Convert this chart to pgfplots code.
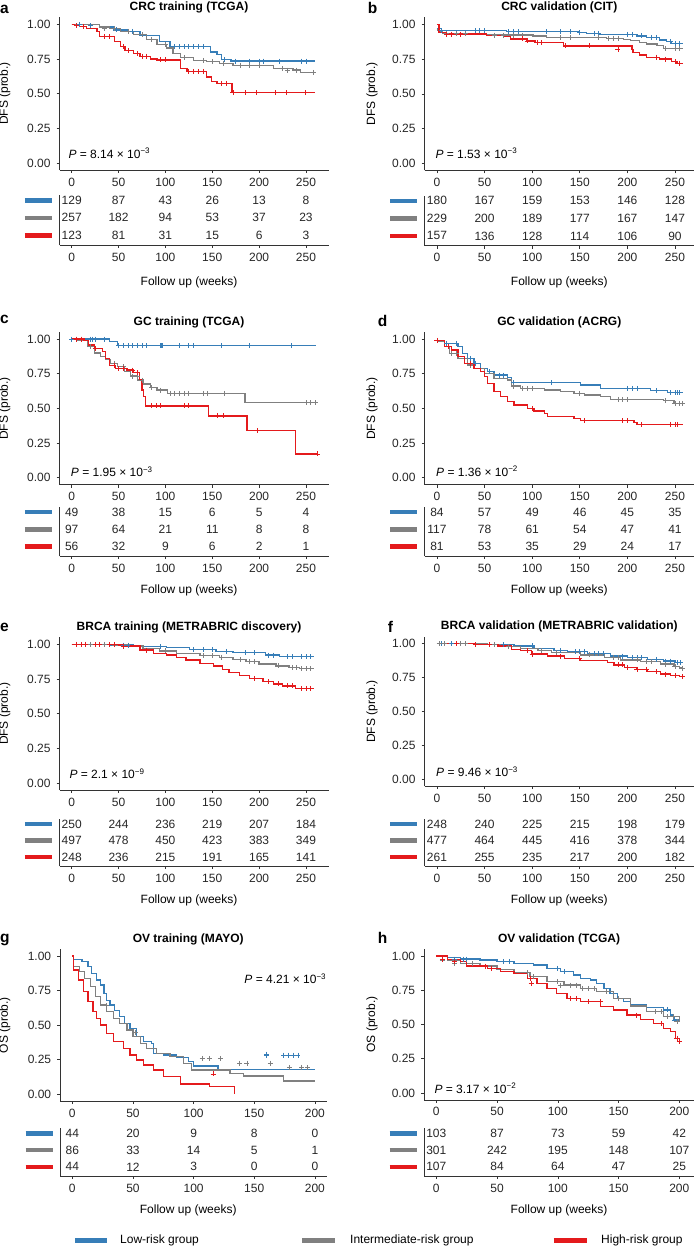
\documentclass[border=0pt]{standalone}
\usepackage{fontspec}
\setmainfont{Liberation Sans}
\usepackage{pgfplots}
\pgfplotsset{compat=1.18}
\definecolor{kmblue}{RGB}{55,126,184}
\definecolor{kmgray}{RGB}{128,128,128}
\definecolor{kmred}{RGB}{228,26,28}
\newcommand{\fs}{\fontsize{12}{14}\selectfont}
\newcommand{\rb}{\textcolor{kmblue}{\rule{27pt}{4.5pt}}}
\newcommand{\rg}{\textcolor{kmgray}{\rule{27pt}{4.5pt}}}
\newcommand{\rr}{\textcolor{kmred}{\rule{27pt}{4.5pt}}}
\pgfplotsset{
  /pgf/number format/assume math mode=true,
  every axis/.append style={font=\fs},
  every tick label/.append style={font=\fs, text=black!85},
  common/.style={scale only axis, anchor=south west, axis x line*=bottom, axis y line*=left,
    tick align=outside, major tick length=3pt, clip=false,
    axis line style={black!80, line width=0.6pt}, tick style={black!80, line width=0.6pt},
    xticklabel style={yshift=-1.2pt}},
  km/.style={common, ymin=-0.05, ymax=1.05, ytick={0,0.25,0.5,0.75,1},
    yticklabel style={/pgf/number format/fixed, /pgf/number format/fixed zerofill,
      /pgf/number format/precision=2, xshift=-2.5pt},
    title style={anchor=base, yshift=1pt, font=\fs\bfseries},
    ylabel style={anchor=base}},
  tbl/.style={common, ymin=0.45, ymax=3.3, ytick={1,2,3}, yticklabels={\rr,\rg,\rb},
    ytick style={draw=none}, yticklabel style={xshift=-1pt},
    xlabel={Follow up (weeks)}},
  kmline/.style={const plot, line width=1.3pt, mark=none},
  cens/.style={only marks, mark=+, mark size=2.5pt, mark options={line width=0.7pt}},
  nums/.style={only marks, mark=none, point meta=explicit symbolic, nodes near coords,
    nodes near coords align=center,
    every node near coord/.append style={anchor=center, inner sep=0pt, font=\fs, text=black!85}},
}
\newcommand{\pval}[3]{\node[anchor=base west, inner sep=0pt, font=\fs] at (axis cs:#1,#2) {\textit{P} = #3};}
\begin{document}
\begin{tikzpicture}
\useasboundingbox (0,0) rectangle (694pt,-1247pt);
% panel letters
\begin{scope}[every node/.style={anchor=base west, inner sep=0pt, font=\fontsize{15.5}{15.5}\bfseries\selectfont}]
\node at (0pt,-13.3pt) {a};
\node at (367.7pt,-13.3pt) {b};
\node at (0pt,-323.3pt) {c};
\node at (377.7pt,-326.7pt) {d};
\node at (0pt,-631.7pt) {e};
\node at (387.7pt,-632.7pt) {f};
\node at (0pt,-942.3pt) {g};
\node at (377.7pt,-943.3pt) {h};
\end{scope}

%% ---------------- a ----------------
\begin{axis}[km, at={(59.5pt,-169.9pt)}, width=269.9pt, height=152.5pt, xmin=-13, xmax=275,
  xtick={0,50,...,250}, title={CRC training (TCGA)}, title style={at={(0.48,1)}},
  ylabel={DFS (prob.)}, ylabel style={at={(axis description cs:-0.191,0.5)}}]
\addplot[kmline, kmblue] coordinates {(0,1)(30,0.98)(45,0.96)(60,0.95)(73,0.92)(94,0.875)(105,0.84)(148,0.80)(155,0.78)(160,0.745)(170,0.735)(260,0.735)};
\addplot[kmline, kmgray] coordinates {(0,1)(30,0.98)(40,0.97)(52,0.95)(66,0.925)(80,0.89)(91,0.855)(101,0.83)(108,0.79)(116,0.76)(130,0.74)(144,0.73)(158,0.72)(172,0.705)(215,0.68)(236,0.67)(244,0.654)(260,0.654)};
\addplot[kmline, kmred] coordinates {(0,1)(3,0.99)(8,0.985)(16,0.97)(27,0.95)(30,0.91)(46,0.875)(52,0.84)(57,0.81)(66,0.79)(73,0.77)(84,0.75)(91,0.743)(116,0.683)(123,0.66)(144,0.62)(149,0.587)(155,0.575)(171,0.507)(260,0.507)};
\addplot[cens, kmblue] coordinates {(8,1)(20,0.99)(48,0.96)(65,0.95)(110,0.84)(115,0.84)(120,0.84)(125,0.84)(130,0.84)(135,0.84)(140,0.84)(163,0.745)(175,0.735)(190,0.735)(200,0.735)(205,0.735)(222,0.735)(245,0.735)(250,0.735)};
\addplot[cens, kmgray] coordinates {(35,0.97)(45,0.97)(60,0.95)(75,0.925)(85,0.89)(100,0.855)(120,0.76)(140,0.74)(150,0.73)(162,0.72)(180,0.705)(190,0.705)(200,0.705)(225,0.68)(230,0.67)(240,0.67)(258,0.654)};
\addplot[cens, kmred] coordinates {(5,0.99)(12,0.985)(35,0.91)(40,0.91)(55,0.84)(60,0.81)(70,0.79)(75,0.77)(80,0.77)(95,0.743)(100,0.743)(125,0.66)(130,0.66)(135,0.66)(140,0.66)(160,0.575)(165,0.575)(172,0.507)(185,0.507)(197,0.507)(217,0.507)(229,0.507)(249,0.507)};
\pval{-3.6}{0.034}{8.14 × 10\textsuperscript{−3}}
\end{axis}
\begin{axis}[tbl, at={(59.5pt,-245pt)}, width=269.9pt, height=49.9pt, xmin=-13, xmax=275,
  xtick={0,50,...,250}, xlabel style={at={(axis description cs:0.48,0)}, anchor=base, yshift=-40pt}]
\addplot[nums] coordinates {(0,3)[129](50,3)[87](100,3)[43](150,3)[26](200,3)[13](250,3)[8]};
\addplot[nums] coordinates {(0,2)[257](50,2)[182](100,2)[94](150,2)[53](200,2)[37](250,2)[23]};
\addplot[nums] coordinates {(0,1)[123](50,1)[81](100,1)[31](150,1)[15](200,1)[6](250,1)[3]};
\end{axis}

%% ---------------- b ----------------
\begin{axis}[km, at={(424.6pt,-170.25pt)}, width=269.4pt, height=152.9pt, xmin=-13, xmax=270,
  xtick={0,50,...,250}, title={CRC validation (CIT)}, title style={at={(0.5,1)}},
  ylabel={DFS (prob.)}, ylabel style={at={(axis description cs:-0.184,0.5)}}]
\addplot[kmline, kmblue] coordinates {(0,0.97)(5,0.955)(73,0.948)(150,0.94)(157,0.935)(171,0.928)(210,0.916)(220,0.906)(234,0.887)(241,0.875)(246,0.863)(258,0.863)};
\addplot[kmline, kmgray] coordinates {(0,0.96)(2,0.947)(6,0.935)(52,0.923)(101,0.916)(115,0.904)(178,0.90)(196,0.892)(203,0.882)(213,0.87)(220,0.858)(231,0.846)(238,0.827)(258,0.827)};
\addplot[kmline, kmred] coordinates {(0,1)(2,0.94)(10,0.93)(52,0.92)(70,0.91)(77,0.895)(94,0.88)(103,0.868)(133,0.844)(205,0.82)(206,0.796)(213,0.78)(220,0.763)(234,0.75)(246,0.731)(252,0.72)(258,0.72)};
\addplot[cens, kmblue] coordinates {(5,0.955)(40,0.955)(45,0.955)(50,0.955)(75,0.948)(80,0.948)(85,0.948)(115,0.948)(130,0.948)(140,0.948)(150,0.94)(165,0.935)(170,0.935)(200,0.928)(205,0.928)(215,0.916)(225,0.906)(230,0.906)(245,0.875)(250,0.863)(255,0.863)};
\addplot[cens, kmgray] coordinates {(10,0.935)(20,0.935)(30,0.935)(60,0.923)(70,0.923)(80,0.923)(90,0.923)(130,0.904)(140,0.904)(170,0.904)(180,0.90)(185,0.90)(190,0.90)(240,0.827)(250,0.827)(255,0.827)};
\addplot[cens, kmred] coordinates {(10,0.93)(15,0.93)(25,0.93)(90,0.895)(95,0.88)(105,0.868)(110,0.868)(135,0.844)(160,0.844)(190,0.82)(230,0.763)(240,0.75)(250,0.731)(255,0.72)};
\pval{-1.7}{0.036}{1.53 × 10\textsuperscript{−3}}
\end{axis}
\begin{axis}[tbl, at={(424.6pt,-245.5pt)}, width=269.4pt, height=49.9pt, xmin=-13, xmax=270,
  xtick={0,50,...,250}, xlabel style={at={(axis description cs:0.5,0)}, anchor=base, yshift=-40pt}]
\addplot[nums] coordinates {(0,3)[180](50,3)[167](100,3)[159](150,3)[153](200,3)[146](250,3)[128]};
\addplot[nums] coordinates {(0,2)[229](50,2)[200](100,2)[189](150,2)[177](200,2)[167](250,2)[147]};
\addplot[nums] coordinates {(0,1)[157](50,1)[136](100,1)[128](150,1)[114](200,1)[106](250,1)[90]};
\end{axis}

%% ---------------- c ----------------
\begin{axis}[km, at={(59.5pt,-484.6pt)}, width=269.9pt, height=152.5pt, xmin=-13, xmax=275,
  xtick={0,50,...,250}, title={GC training (TCGA)}, title style={at={(0.48,1)}},
  ylabel={DFS (prob.)}, ylabel style={at={(axis description cs:-0.191,0.5)}}]
\addplot[kmline, kmblue] coordinates {(0,1)(40,0.98)(48.6,0.952)(261,0.952)};
\addplot[kmline, kmgray] coordinates {(0,1)(6,0.988)(17,0.945)(24,0.90)(31,0.873)(36,0.85)(41,0.825)(49,0.80)(56,0.765)(63,0.733)(70,0.704)(77,0.675)(84,0.65)(91,0.632)(102,0.608)(185,0.541)(261,0.541)};
\addplot[kmline, kmred] coordinates {(0,1)(13,0.988)(18,0.957)(24,0.933)(33,0.909)(36,0.86)(40,0.81)(47,0.788)(59,0.776)(66,0.757)(72,0.704)(75,0.632)(77,0.584)(79,0.517)(146,0.445)(187,0.339)(239,0.171)(263,0.171)};
\addplot[cens, kmblue] coordinates {(0,1)(5,1)(10,1)(20,1)(22,1)(25,1)(35,1)(50,0.952)(55,0.952)(60,0.952)(65,0.952)(70,0.952)(75,0.952)(80,0.952)(95,0.952)(96,0.952)(97,0.952)(115,0.952)(125,0.952)(130,0.952)(160,0.952)(190,0.952)(234,0.952)};
\addplot[cens, kmgray] coordinates {(20,0.945)(45,0.825)(55,0.80)(65,0.733)(70,0.733)(75,0.704)(85,0.65)(95,0.632)(105,0.608)(110,0.608)(115,0.608)(120,0.608)(125,0.608)(140,0.608)(145,0.608)(163,0.608)(250,0.541)(255,0.541)(260,0.541)};
\addplot[cens, kmred] coordinates {(5,1)(10,1)(25,0.933)(45,0.81)(50,0.788)(55,0.788)(65,0.776)(70,0.757)(85,0.517)(90,0.517)(95,0.517)(120,0.517)(125,0.517)(155,0.445)(162,0.445)(198,0.339)(262,0.171)};
\pval{-1}{0.007}{1.95 × 10\textsuperscript{−3}}
\end{axis}
\begin{axis}[tbl, at={(59.5pt,-556pt)}, width=269.9pt, height=49pt, xmin=-13, xmax=275,
  xtick={0,50,...,250}, xlabel style={at={(axis description cs:0.48,0)}, anchor=base, yshift=-37.5pt}]
\addplot[nums] coordinates {(0,3)[49](50,3)[38](100,3)[15](150,3)[6](200,3)[5](250,3)[4]};
\addplot[nums] coordinates {(0,2)[97](50,2)[64](100,2)[21](150,2)[11](200,2)[8](250,2)[8]};
\addplot[nums] coordinates {(0,1)[56](50,1)[32](100,1)[9](150,1)[6](200,1)[2](250,1)[1]};
\end{axis}

%% ---------------- d ----------------
\begin{axis}[km, at={(424.6pt,-484.6pt)}, width=269.4pt, height=152.5pt, xmin=-13, xmax=270,
  xtick={0,50,...,250}, title={GC validation (ACRG)}, title style={at={(0.5,1)}},
  ylabel={DFS (prob.)}, ylabel style={at={(axis description cs:-0.184,0.5)}}]
\addplot[kmline, kmblue] coordinates {(0,0.99)(3,0.98)(8,0.969)(22,0.945)(27,0.897)(32,0.86)(39,0.825)(46,0.789)(53,0.764)(60,0.74)(74,0.724)(78,0.685)(151,0.668)(172,0.644)(224,0.627)(242,0.613)(258,0.613)};
\addplot[kmline, kmgray] coordinates {(0,0.98)(8,0.945)(13,0.897)(22,0.86)(32,0.812)(39,0.788)(50,0.752)(60,0.716)(74,0.704)(78,0.661)(88,0.644)(113,0.632)(130,0.62)(144,0.608)(155,0.596)(172,0.584)(182,0.565)(238,0.555)(249,0.536)(258,0.536)};
\addplot[kmline, kmred] coordinates {(0,0.99)(8,0.945)(15,0.92)(22,0.873)(29,0.825)(39,0.788)(46,0.764)(50,0.728)(53,0.68)(60,0.62)(67,0.584)(74,0.548)(81,0.524)(95,0.5)(102,0.481)(113,0.464)(116,0.44)(144,0.428)(151,0.411)(207,0.397)(210,0.385)(258,0.385)};
\addplot[cens, kmblue] coordinates {(10,0.969)(20,0.969)(35,0.86)(40,0.825)(55,0.764)(65,0.74)(70,0.74)(80,0.685)(120,0.685)(200,0.644)(205,0.644)(210,0.644)(230,0.627)(245,0.613)(250,0.613)(252,0.613)(255,0.613)};
\addplot[cens, kmgray] coordinates {(15,0.897)(20,0.897)(35,0.812)(80,0.661)(90,0.644)(95,0.644)(100,0.644)(150,0.608)(190,0.565)(195,0.565)(200,0.565)(240,0.555)(250,0.536)(255,0.536)(258,0.536)};
\addplot[cens, kmred] coordinates {(0,0.99)(12,0.945)(35,0.825)(100,0.5)(155,0.411)(195,0.411)(200,0.411)(215,0.385)(245,0.385)(250,0.385)(252,0.385)};
\pval{-1}{0.012}{1.36 × 10\textsuperscript{−2}}
\end{axis}
\begin{axis}[tbl, at={(424.6pt,-556pt)}, width=269.4pt, height=49pt, xmin=-13, xmax=270,
  xtick={0,50,...,250}, xlabel style={at={(axis description cs:0.5,0)}, anchor=base, yshift=-37.5pt}]
\addplot[nums] coordinates {(0,3)[84](50,3)[57](100,3)[49](150,3)[46](200,3)[45](250,3)[35]};
\addplot[nums] coordinates {(0,2)[117](50,2)[78](100,2)[61](150,2)[54](200,2)[47](250,2)[41]};
\addplot[nums] coordinates {(0,1)[81](50,1)[53](100,1)[35](150,1)[29](200,1)[24](250,1)[17]};
\end{axis}

%% ---------------- e ----------------
\begin{axis}[km, at={(59.5pt,-789.9pt)}, width=269.9pt, height=152.5pt, xmin=-13, xmax=275,
  xtick={0,50,...,250}, title={BRCA training (METRABRIC discovery)}, title style={at={(0.48,1)}},
  ylabel={DFS (prob.)}, ylabel style={at={(axis description cs:-0.191,0.5)}}]
\addplot[kmline, kmblue] coordinates {(0,1)(41,0.995)(66,0.983)(101,0.976)(126,0.964)(154,0.95)(172,0.94)(207,0.923)(222,0.911)(259,0.911)};
\addplot[kmline, kmgray] coordinates {(0,1)(44,0.995)(62,0.988)(76,0.971)(94,0.952)(112,0.935)(137,0.921)(158,0.906)(172,0.892)(186,0.875)(200,0.858)(218,0.844)(232,0.834)(243,0.825)(259,0.825)};
\addplot[kmline, kmred] coordinates {(0,1)(50,0.995)(55,0.988)(73,0.959)(87,0.935)(101,0.923)(112,0.906)(122,0.887)(137,0.863)(151,0.844)(161,0.82)(168,0.796)(179,0.776)(190,0.755)(204,0.731)(215,0.714)(225,0.70)(239,0.683)(259,0.683)};
\addplot[cens, kmblue] coordinates {(5,1)(15,1)(30,1)(55,0.995)(60,0.995)(95,0.983)(130,0.964)(140,0.964)(150,0.964)(165,0.95)(185,0.94)(195,0.94)(210,0.923)(215,0.923)(230,0.911)(235,0.911)(245,0.911)(250,0.911)(255,0.911)};
\addplot[cens, kmgray] coordinates {(5,1)(20,1)(35,1)(100,0.952)(140,0.921)(150,0.921)(160,0.906)(180,0.892)(190,0.875)(195,0.875)(220,0.844)(235,0.834)(240,0.834)(245,0.825)(250,0.825)(255,0.825)};
\addplot[cens, kmred] coordinates {(5,1)(10,1)(15,1)(25,1)(30,1)(40,1)(45,1)(55,0.988)(80,0.959)(195,0.755)(210,0.731)(220,0.714)(230,0.70)(235,0.70)(245,0.683)(250,0.683)(255,0.683)};
\pval{-2.5}{0.031}{2.1 × 10\textsuperscript{−9}}
\end{axis}
\begin{axis}[tbl, at={(59.5pt,-866pt)}, width=269.9pt, height=47pt, xmin=-13, xmax=275,
  xtick={0,50,...,250}, xlabel style={at={(axis description cs:0.48,0)}, anchor=base, yshift=-37.5pt}]
\addplot[nums] coordinates {(0,3)[250](50,3)[244](100,3)[236](150,3)[219](200,3)[207](250,3)[184]};
\addplot[nums] coordinates {(0,2)[497](50,2)[478](100,2)[450](150,2)[423](200,2)[383](250,2)[349]};
\addplot[nums] coordinates {(0,1)[248](50,1)[236](100,1)[215](150,1)[191](200,1)[165](250,1)[141]};
\end{axis}

%% ---------------- f ----------------
\begin{axis}[km, at={(424.6pt,-786.1pt)}, width=269.4pt, height=149.2pt, xmin=-13, xmax=270,
  xtick={0,50,...,250}, title={BRCA validation (METRABRIC validation)}, title style={at={(0.5,1)}},
  ylabel={DFS (prob.)}, ylabel style={at={(axis description cs:-0.184,0.5)}}]
\addplot[kmline, kmblue] coordinates {(0,1)(46,0.993)(81,0.983)(102,0.966)(123,0.948)(137,0.94)(158,0.928)(182,0.909)(200,0.897)(221,0.885)(238,0.872)(250,0.86)(258,0.86)};
\addplot[kmline, kmgray] coordinates {(0,1)(53,0.993)(71,0.978)(88,0.966)(106,0.948)(120,0.934)(151,0.917)(176,0.90)(193,0.88)(214,0.867)(235,0.85)(249,0.83)(255,0.82)(258,0.82)};
\addplot[kmline, kmred] coordinates {(0,1)(39,0.993)(64,0.983)(78,0.958)(88,0.948)(99,0.924)(116,0.909)(134,0.889)(151,0.875)(179,0.86)(186,0.843)(197,0.826)(210,0.811)(221,0.794)(235,0.776)(245,0.767)(255,0.757)(258,0.757)};
\addplot[cens, kmblue] coordinates {(5,1)(15,1)(20,1)(70,0.993)(100,0.983)(130,0.948)(145,0.94)(150,0.94)(155,0.94)(165,0.928)(170,0.928)(175,0.928)(195,0.909)(205,0.897)(210,0.897)(215,0.897)(230,0.885)(240,0.872)(245,0.872)(252,0.86)(256,0.86)};
\addplot[cens, kmgray] coordinates {(3,1)(8,1)(25,1)(30,1)(60,0.993)(75,0.978)(110,0.948)(125,0.934)(160,0.917)(185,0.90)(190,0.90)(210,0.88)(220,0.867)(225,0.867)(240,0.85)(250,0.83)(258,0.82)};
\addplot[cens, kmred] coordinates {(20,1)(40,0.993)(55,0.993)(95,0.948)(100,0.924)(130,0.909)(150,0.889)(190,0.843)(195,0.843)(200,0.826)(210,0.811)(220,0.811)(230,0.794)(240,0.776)(250,0.767)(258,0.757)};
\pval{-1}{0.02}{9.46 × 10\textsuperscript{−3}}
\end{axis}
\begin{axis}[tbl, at={(424.6pt,-866pt)}, width=269.4pt, height=47pt, xmin=-13, xmax=270,
  xtick={0,50,...,250}, xlabel style={at={(axis description cs:0.5,0)}, anchor=base, yshift=-37.5pt}]
\addplot[nums] coordinates {(0,3)[248](50,3)[240](100,3)[225](150,3)[215](200,3)[198](250,3)[179]};
\addplot[nums] coordinates {(0,2)[477](50,2)[464](100,2)[445](150,2)[416](200,2)[378](250,2)[344]};
\addplot[nums] coordinates {(0,1)[261](50,1)[255](100,1)[235](150,1)[217](200,1)[200](250,1)[182]};
\end{axis}

%% ---------------- g ----------------
\begin{axis}[km, at={(60.2pt,-1101.2pt)}, width=266.8pt, height=152.1pt, xmin=-10, xmax=210,
  xtick={0,50,...,200}, title={OV training (MAYO)}, title style={at={(0.48,1)}},
  ylabel={OS (prob.)}, ylabel style={at={(axis description cs:-0.196,0.5)}}]
\addplot[kmline, kmblue] coordinates {(0,1)(1,0.976)(8,0.959)(13,0.923)(16,0.875)(20,0.827)(23,0.79)(26,0.73)(28,0.68)(31,0.646)(35,0.605)(39,0.561)(43,0.513)(47.5,0.477)(53,0.417)(58.5,0.38)(65,0.369)(67,0.296)(75,0.284)(86,0.265)(96,0.236)(100,0.205)(120,0.181)(200,0.181)};
\addplot[kmline, kmgray] coordinates {(0,1)(1,0.923)(6,0.887)(10,0.839)(15,0.778)(19,0.706)(23,0.646)(28,0.598)(34,0.549)(39,0.513)(45,0.465)(50,0.417)(56,0.369)(61,0.333)(69.5,0.296)(80.5,0.272)(91.5,0.224)(98,0.176)(130,0.152)(141,0.133)(174,0.096)(200,0.096)};
\addplot[kmline, kmred] coordinates {(0,1)(1,0.899)(5,0.827)(9,0.742)(13,0.67)(17,0.598)(20,0.549)(23,0.501)(28,0.441)(34,0.38)(42,0.333)(47.5,0.284)(53,0.248)(58.5,0.212)(67,0.176)(75,0.128)(89,0.075)(113,0.055)(134,0.0)};
\addplot[cens, kmgray] coordinates {(28,0.64)(52,0.45)(107,0.26)(113,0.26)(122,0.26)(138,0.225)(144,0.225)(163,0.225)(179,0.195)(189,0.195)(194,0.195)};
\addplot[cens, kmblue] coordinates {(160,0.284)(160,0.29)(174,0.284)(178,0.284)(182,0.284)(186,0.284)};
\addplot[cens, kmred] coordinates {(116,0.147)};
\pval{141.8}{0.80}{4.21 × 10\textsuperscript{−3}}
\end{axis}
\begin{axis}[tbl, at={(60.2pt,-1176pt)}, width=266.8pt, height=47.6pt, xmin=-10, xmax=210,
  xtick={0,50,...,200}, xlabel style={at={(axis description cs:0.48,0)}, anchor=base, yshift=-37.5pt}]
\addplot[nums] coordinates {(0,3)[44](50,3)[20](100,3)[9](150,3)[8](200,3)[0]};
\addplot[nums] coordinates {(0,2)[86](50,2)[33](100,2)[14](150,2)[5](200,2)[1]};
\addplot[nums] coordinates {(0,1)[44](50,1)[12](100,1)[3](150,1)[0](200,1)[0]};
\end{axis}

%% ---------------- h ----------------
\begin{axis}[km, at={(424.15pt,-1099.85pt)}, width=269.85pt, height=150.7pt, xmin=-10, xmax=212.1,
  xtick={0,50,...,200}, title={OV validation (TCGA)}, title style={at={(0.5,1)}},
  ylabel={OS (prob.)}, ylabel style={at={(axis description cs:-0.182,0.5)}}]
\addplot[kmline, kmblue] coordinates {(0,1)(9,0.99)(20,0.978)(36,0.971)(50,0.959)(64,0.946)(80,0.934)(91,0.91)(102,0.886)(113,0.861)(118.5,0.837)(127,0.825)(132,0.80)(138,0.764)(143,0.727)(149,0.691)(154,0.667)(160,0.642)(173,0.625)(187,0.606)(193,0.569)(195,0.533)(200,0.52)};
\addplot[kmline, kmgray] coordinates {(0,1)(9,0.971)(20,0.946)(36,0.927)(50,0.903)(64,0.878)(77,0.849)(91,0.813)(105,0.788)(118.5,0.764)(132,0.74)(146,0.691)(160,0.635)(173,0.594)(187,0.557)(200,0.52)};
\addplot[kmline, kmred] coordinates {(0,1)(9,0.976)(20,0.959)(25,0.927)(42,0.91)(53,0.886)(64,0.873)(75,0.837)(83,0.80)(91,0.764)(99,0.727)(107.5,0.691)(118.5,0.667)(135,0.63)(146,0.606)(157,0.569)(168,0.538)(179,0.509)(187,0.472)(193,0.448)(197,0.399)(200,0.375)};
\addplot[cens, kmblue] coordinates {(15,0.978)(22,0.978)(25,0.978)(55,0.959)(60,0.959)(100,0.91)(105,0.886)(190,0.606)(196,0.533)(198,0.52)};
\addplot[cens, kmgray] coordinates {(5,0.971)(15,0.946)(30,0.946)(75,0.878)(80,0.849)(100,0.813)(102,0.788)(110,0.788)(115,0.788)(120,0.764)(125,0.764)(130,0.764)(140,0.74)(150,0.691)(180,0.594)(185,0.594)(190,0.557)(195,0.557)(198,0.52)};
\addplot[cens, kmred] coordinates {(5,0.976)(15,0.959)(40,0.927)(45,0.91)(77,0.837)(78,0.80)(110,0.691)(115,0.691)(125,0.667)(135,0.667)(165,0.569)(185,0.509)(198,0.399)(200,0.375)};
\pval{-1.6}{0.0}{3.17 × 10\textsuperscript{−2}}
\end{axis}
\begin{axis}[tbl, at={(424.15pt,-1176pt)}, width=269.85pt, height=47.6pt, xmin=-10, xmax=212.1,
  xtick={0,50,...,200}, xlabel style={at={(axis description cs:0.5,0)}, anchor=base, yshift=-37.5pt}]
\addplot[nums] coordinates {(0,3)[103](50,3)[87](100,3)[73](150,3)[59](200,3)[42]};
\addplot[nums] coordinates {(0,2)[301](50,2)[242](100,2)[195](150,2)[148](200,2)[107]};
\addplot[nums] coordinates {(0,1)[107](50,1)[84](100,1)[64](150,1)[47](200,1)[25]};
\end{axis}

%% legend
\begin{scope}[every node/.style={anchor=base west, inner sep=0pt, font=\fs}]
\node at (75pt,-1243.3pt) {\textcolor{kmblue}{\rule{32pt}{5pt}}};
\node at (120pt,-1243.3pt) {Low-risk group};
\node at (302pt,-1243.3pt) {\textcolor{kmgray}{\rule{33pt}{5pt}}};
\node at (350pt,-1243.3pt) {Intermediate-risk group};
\node at (553.7pt,-1243.3pt) {\textcolor{kmred}{\rule{33pt}{5pt}}};
\node at (601pt,-1243.3pt) {High-risk group};
\end{scope}
\end{tikzpicture}
\end{document}
